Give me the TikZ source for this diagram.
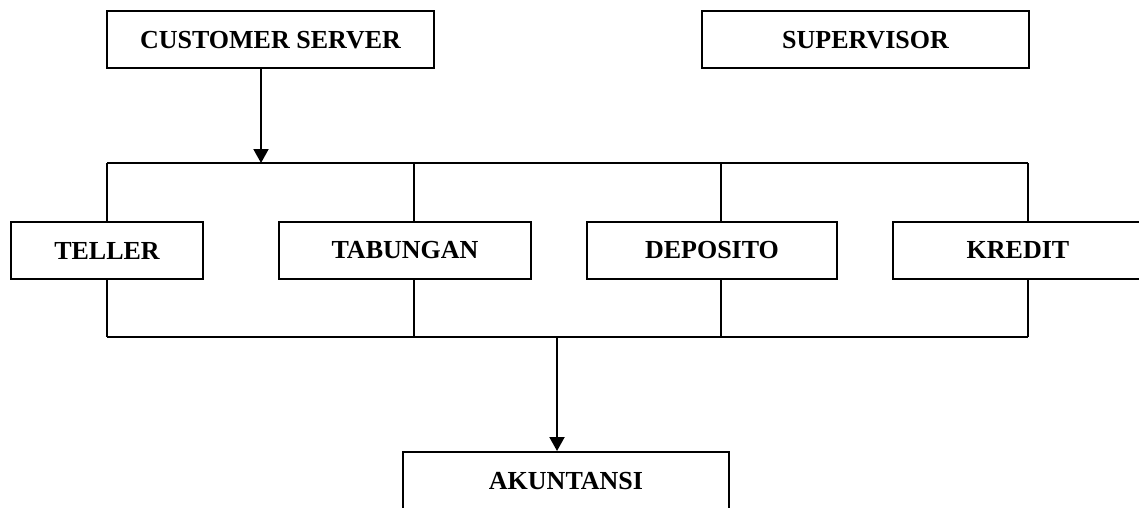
\documentclass[tikz,border=0pt]{standalone}
\usepackage{fontspec}
\setmainfont{Liberation Serif}
\usetikzlibrary{arrows.meta}
\tikzset{
	unit/.style={draw, line width=2pt, minimum height=57pt, inner sep=0pt,
		font=\fontsize{26}{30}\selectfont\bfseries},
	link/.style={line width=2pt},
	tip/.style={-{Triangle[width=15pt,length=14pt]}},
}
\begin{document}
\begin{tikzpicture}[x=1pt,y=-1pt]
	\useasboundingbox (0,0) rectangle (1139,508);

	\node[unit, minimum width=327pt] (cs) at (270.5,40) {CUSTOMER SERVER};
	\node[unit, minimum width=327pt] (spv) at (865.5,40) {SUPERVISOR};

	\node[unit, minimum width=192pt] (teller) at (107,250.5) {TELLER};
	\node[unit, minimum width=252pt] (tabungan) at (405,250.5) {TABUNGAN};
	\node[unit, minimum width=250pt] (deposito) at (712,250.5) {DEPOSITO};
	\node[unit, minimum width=250pt] (kredit) at (1018,250.5) {KREDIT};

	\node[unit, minimum width=326pt, minimum height=58pt] (akuntansi) at (566,481) {AKUNTANSI};

	\coordinate (IN) at (261,163);
	\coordinate (UP1) at (107,163);
	\coordinate (UP2) at (414,163);
	\coordinate (UP3) at (721,163);
	\coordinate (UP4) at (1028,163);

	\coordinate (OUT) at (557,337);
	\coordinate (DW1) at (107,337);
	\coordinate (DW2) at (414,337);
	\coordinate (DW3) at (721,337);
	\coordinate (DW4) at (1028,337);



	\draw[link,tip](cs.south -| IN)--(IN);

	\draw[link](UP1)--(UP4);
	\draw[link](UP1)--(teller.north -| UP1);
	\draw[link](UP2)--(tabungan.north -| UP2);
	\draw[link](UP3)--(deposito.north -| UP3);
	\draw[link](UP4)--(kredit.north -| UP4);

	\draw[link](teller.south -| DW1)--(DW1);
	\draw[link](tabungan.south -| DW2)--(DW2);
	\draw[link](deposito.south -| DW3)--(DW3);
	\draw[link](kredit.south -| DW4)--(DW4);
	\draw[link](DW1)--(DW4);

	\draw[link,tip](OUT)--(akuntansi.north -| OUT);

\end{tikzpicture}
\end{document}
